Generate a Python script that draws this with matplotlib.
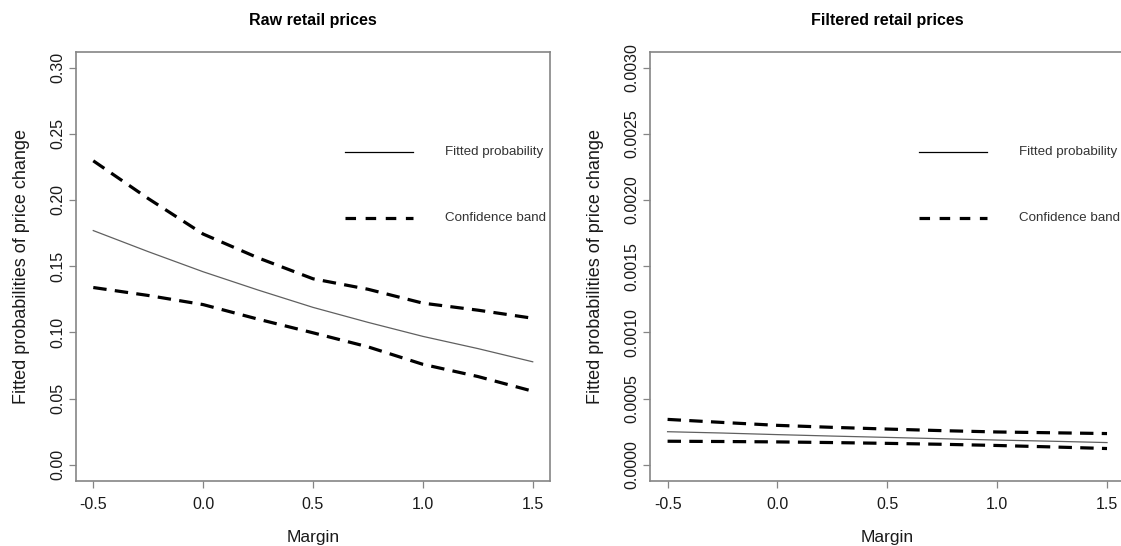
import matplotlib
matplotlib.use("Agg")
import matplotlib.pyplot as plt
from matplotlib.lines import Line2D

plt.rcParams['font.family'] = ['Liberation Sans', 'DejaVu Sans']

margin = [-0.5, -0.25, 0.0, 0.25, 0.5, 0.75, 1.0, 1.25, 1.5]

raw_fit = [0.1769, 0.1610, 0.1458, 0.1320, 0.1189, 0.1076, 0.0970, 0.0878, 0.0778]
raw_upper = [0.2296, 0.2011, 0.1743, 0.1563, 0.1405, 0.1326, 0.1221, 0.1168, 0.1107]
raw_lower = [0.1339, 0.1279, 0.1210, 0.1100, 0.0997, 0.0891, 0.0759, 0.0667, 0.0556]

filt_fit = [0.000250, 0.000240, 0.000228, 0.000217, 0.000207, 0.000197, 0.000187, 0.000178, 0.000168]
filt_upper = [0.000343, 0.000320, 0.000298, 0.000283, 0.000270, 0.000258, 0.000248, 0.000242, 0.000236]
filt_lower = [0.000178, 0.000176, 0.000173, 0.000168, 0.000162, 0.000155, 0.000146, 0.000135, 0.000123]

raw_yticks = [0.00, 0.05, 0.10, 0.15, 0.20, 0.25, 0.30]
raw_yticklabels = ["0.00", "0.05", "0.10", "0.15", "0.20", "0.25", "0.30"]
filt_yticks = [0.0, 0.0005, 0.0010, 0.0015, 0.0020, 0.0025, 0.0030]
filt_yticklabels = ["0.0000", "0.0005", "0.0010", "0.0015", "0.0020", "0.0025", "0.0030"]
xticks = [-0.5, 0.0, 0.5, 1.0, 1.5]
xticklabels = ["-0.5", "0.0", "0.5", "1.0", "1.5"]

titles = ["Raw retail prices", "Filtered retail prices"]
legend_labels = ["Fitted probability", "Confidence band"]

W, H = 1121, 546
fig = plt.figure(figsize=(W / 100, H / 100), dpi=100)

def px_axes(x0, x1, y0, y1):
    return fig.add_axes([x0 / W, (H - y1) / H, (x1 - x0) / W, (y1 - y0) / H])

ax1 = px_axes(75.7, 550.3, 51.7, 480.7)
ax2 = px_axes(650.0, 1124.6, 51.7, 480.7)

DASH = (0, (4.2, 2.6))
spine_col = '#858585'

panels = [
    (ax1, raw_fit, raw_upper, raw_lower, raw_yticks, raw_yticklabels, 0.30),
    (ax2, filt_fit, filt_upper, filt_lower, filt_yticks, filt_yticklabels, 0.0030),
]

for i, (ax, fit, up, lo, yt, ytl, ymax) in enumerate(panels):
    ax.plot(margin, fit, color='#606060', lw=0.9, solid_joinstyle='round')
    ax.plot(margin, up, color='black', lw=2.3, linestyle=DASH)
    ax.plot(margin, lo, color='black', lw=2.3, linestyle=DASH)
    ax.set_xlim(-0.58, 1.58)
    ax.set_ylim(-0.04 * ymax, 1.04 * ymax)
    ax.set_xticks(xticks)
    ax.set_xticklabels(xticklabels)
    ax.set_yticks(yt)
    ax.set_yticklabels(ytl, rotation=90, va='center')
    for s in ax.spines.values():
        s.set_color(spine_col)
        s.set_linewidth(1.2)
    ax.tick_params(axis='both', colors=spine_col, labelcolor='#1a1a1a',
                   labelsize=11.5, length=5.3, width=0.9, direction='out')
    ax.tick_params(axis='x', pad=6.5)
    ax.tick_params(axis='y', pad=2.0)
    ax.set_xlabel("Margin", fontsize=12.5, color='#1a1a1a', labelpad=13)
    ax.set_ylabel("Fitted probabilities of price change", fontsize=13,
                  color='#1a1a1a', labelpad=15)
    ax.set_title(titles[i], fontsize=11.5, fontweight='bold', pad=19)

    # legend (drawn in axes fraction)
    tr = ax.transAxes
    ax.add_line(Line2D([0.5674, 0.710], [0.767, 0.767], transform=tr,
                       color='black', lw=0.9))
    ax.add_line(Line2D([0.5674, 0.710], [0.613, 0.613], transform=tr,
                       color='black', lw=2.3, linestyle=(0, (3.3, 3.0))))
    ax.text(0.778, 0.767, legend_labels[0], transform=tr, fontsize=9.6,
            color='#333333', va='center', ha='left')
    ax.text(0.778, 0.613, legend_labels[1], transform=tr, fontsize=9.6,
            color='#333333', va='center', ha='left')

fig.savefig("out.png", dpi=100)
